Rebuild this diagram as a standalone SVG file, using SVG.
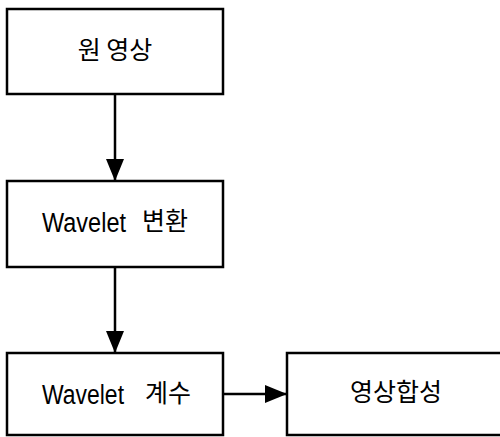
<svg xmlns="http://www.w3.org/2000/svg" width="500" height="437" viewBox="0 0 500 437">
<style>
.box{fill:#fff;stroke:#000;stroke-width:2.5}
.lbl{font-family:"Noto Sans CJK KR","Noto Sans",sans-serif;font-size:25px;fill:#000;text-anchor:middle;dominant-baseline:central}
.mix{font-family:"Noto Sans CJK KR","Noto Sans",sans-serif;font-size:25px;fill:#000}
.lat{font-family:"Liberation Sans",sans-serif;font-size:27px}
.edge{stroke:#000;stroke-width:2.5;fill:none}
</style>
<defs>
<marker id="ah" viewBox="0 0 22 18" refX="22" refY="9" markerWidth="22" markerHeight="18" markerUnits="userSpaceOnUse" orient="auto">
<path d="M0,0 L22,9 L0,18 Z" fill="#000"/>
</marker>
</defs>
<rect width="500" height="437" fill="#fff"/>
<g id="connectors">
<line class="edge" x1="115" y1="94" x2="115" y2="181" marker-end="url(#ah)"/>
<line class="edge" x1="115" y1="267" x2="115" y2="353" marker-end="url(#ah)"/>
<line class="edge" x1="223" y1="394" x2="287" y2="394" marker-end="url(#ah)"/>
</g>
<g id="n1">
<rect class="box" x="7" y="9" width="216" height="85"/>
<text class="lbl" x="115" y="48">원 영상</text>
</g>
<g id="n2">
<rect class="box" x="7" y="181" width="216" height="86"/>
<text class="mix" x="42" y="232"><tspan class="lat" textLength="84" lengthAdjust="spacingAndGlyphs">Wavelet</tspan><tspan x="142" y="230">변환</tspan></text>
</g>
<g id="n3">
<rect class="box" x="7" y="353" width="216" height="82"/>
<text class="mix" x="42" y="404"><tspan class="lat" textLength="82" lengthAdjust="spacingAndGlyphs">Wavelet</tspan><tspan x="145" y="402">계수</tspan></text>
</g>
<g id="n4">
<rect class="box" x="287" y="353" width="220" height="82"/>
<text class="lbl" x="396" y="390">영상합성</text>
</g>
</svg>
